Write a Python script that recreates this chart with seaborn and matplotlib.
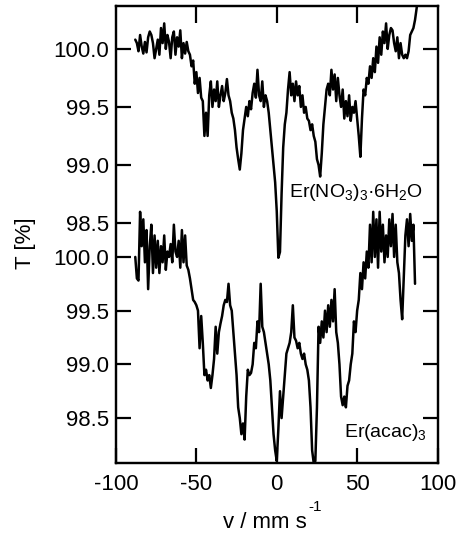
import numpy as np
import pandas as pd
import matplotlib
matplotlib.use("Agg")
import matplotlib.pyplot as plt
import seaborn as sns

# Mössbauer spectra: velocity channels (mm/s) and transmission (%)
v_no3 = np.arange(-88, 89, 1.0)
t_no3 = [
    100.08, 100.05, 99.98, 100.12, 100.02, 99.96, 100.06, 99.97, 100.10, 100.15,
    100.12, 100.05, 99.92, 100.00, 100.08, 99.95, 100.18, 100.05, 100.22, 100.00,
    100.12, 100.06, 99.92, 100.10, 100.15, 99.95, 100.10, 100.02, 100.16, 99.92,
    100.05, 99.96, 100.06, 99.98,
    99.95, 99.85, 99.90, 99.70, 99.80, 99.62, 99.75, 99.58, 99.55,
    99.25, 99.45, 99.25, 99.60,
    99.72, 99.50, 99.65, 99.55, 99.72, 99.50, 99.60, 99.68, 99.55, 99.62,
    99.74, 99.60, 99.55,
    99.45, 99.40, 99.30, 99.15, 99.05, 98.96, 99.10, 99.30, 99.40, 99.50, 99.42,
    99.55, 99.48, 99.62, 99.70, 99.58, 99.82, 99.60, 99.55, 99.72, 99.50, 99.60,
    99.55,
    99.45, 99.30, 99.15, 99.00, 98.85, 98.60, 98.20, 98.25, 98.75, 99.15, 99.35,
    99.45, 99.65, 99.80, 99.60, 99.70, 99.55, 99.72, 99.60, 99.68, 99.50, 99.60,
    99.45, 99.50,
    99.40, 99.38, 99.30, 99.35, 99.25, 99.20, 99.05, 99.00, 98.90, 99.10, 99.35,
    99.50,
    99.65, 99.70, 99.60, 99.82, 99.65, 99.78, 99.55, 99.75, 99.60, 99.50, 99.65,
    99.40, 99.55, 99.42, 99.60, 99.38, 99.50, 99.45, 99.55,
    99.40, 99.25, 99.07, 99.40, 99.65, 99.60,
    99.75, 99.70, 99.85, 99.75, 99.92, 99.80, 100.02, 99.88, 100.10, 99.95,
    100.15, 100.05, 100.22, 100.00, 100.12, 100.18, 100.16, 100.05, 99.98, 100.10,
    99.92, 100.05, 99.95, 99.92, 99.95, 99.92, 99.98, 100.12, 100.15, 100.18,
    100.25, 100.35, 100.50,
]

v_acac = np.arange(-88, 87, 1.0)
t_acac = [
    100.00, 99.80, 99.78, 100.42, 100.10, 100.35, 99.95, 100.25, 99.70, 100.10,
    100.30, 99.85, 100.20, 99.90, 100.15, 99.85, 100.10, 99.95, 100.20, 99.88,
    100.05, 100.00, 100.12, 99.95, 100.30, 100.05, 100.00, 100.15, 99.90, 100.25,
    99.95, 100.20, 99.92, 99.88,
    99.80, 99.70, 99.60, 99.58, 99.55, 99.50, 99.15, 99.45, 99.20, 98.90,
    98.95, 98.85, 98.90, 98.78, 98.90, 99.05, 99.35, 99.10, 99.30, 99.38,
    99.45, 99.55, 99.60, 99.58, 99.75, 99.55, 99.50, 99.30, 99.10, 98.90,
    98.60, 98.50, 98.35, 98.45, 98.30, 98.70, 98.95, 98.90, 98.92, 99.00,
    99.20, 99.15, 99.40, 99.30, 99.75, 99.35, 99.30, 99.20, 99.10, 99.00,
    98.85, 98.60, 98.35, 98.20, 98.10, 98.40, 98.75, 98.50, 98.70, 98.90,
    99.10, 99.15, 99.20, 99.30, 99.55, 99.25, 99.22, 99.15, 99.20, 99.10,
    99.05, 99.10, 99.00, 98.95, 98.85, 98.60, 98.20, 98.08, 98.10, 98.60,
    99.35, 99.20, 99.40, 99.25, 99.50, 99.30, 99.55, 99.35, 99.60, 99.40,
    99.70, 99.30, 99.20, 99.00, 98.70, 98.62, 98.70, 98.60, 98.80, 98.85,
    99.00, 99.10, 99.40, 99.30, 99.50, 99.60, 99.85, 99.70, 99.95, 99.80,
    100.05, 99.90, 100.30, 99.95, 100.42, 100.00, 100.35, 99.90, 100.42, 100.05,
    100.30, 99.95, 100.20, 100.00, 100.35, 100.10, 100.40, 100.00, 100.30, 99.95,
    99.85, 99.60, 99.42, 99.80, 100.20, 100.35, 100.10, 100.40, 100.15, 100.30,
    99.75,
]

y_ticks = [98.5, 99.0, 99.5, 100.0]
x_ticks = [-100, -50, 0, 50, 100]

sns.set_style("ticks")
plt.rcParams["font.family"] = ["Liberation Sans", "DejaVu Sans"]
plt.rcParams["mathtext.fontset"] = "custom"
plt.rcParams["mathtext.rm"] = "Liberation Sans"
plt.rcParams["mathtext.it"] = "Liberation Sans:italic"
plt.rcParams["mathtext.bf"] = "Liberation Sans:bold"
for key in ("text.color", "axes.labelcolor", "xtick.color", "ytick.color",
            "axes.edgecolor"):
    plt.rcParams[key] = "black"

df_no3 = pd.DataFrame({"v": v_no3, "T": t_no3})
df_acac = pd.DataFrame({"v": v_acac, "T": t_acac})

fig = plt.figure(figsize=(4.63, 5.34), dpi=100)
rect = [0.2505, 0.133, 0.6945, 0.856]
ax_lo = fig.add_axes(rect)
ax_hi = fig.add_axes(rect)
ax_hi.patch.set_alpha(0)

sns.lineplot(data=df_acac, x="v", y="T", ax=ax_lo, color="black", lw=1.8,
             estimator=None, sort=False)
sns.lineplot(data=df_no3, x="v", y="T", ax=ax_hi, color="black", lw=1.8,
             estimator=None, sort=False)

fs = 16
for ax in (ax_lo, ax_hi):
    ax.set_xlim(-100, 100)
    ax.set_yticks(y_ticks)
    ax.set_yticklabels([f"{t:.1f}" for t in y_ticks])
    ax.set_xlabel("")
    ax.set_ylabel("")
    ax.tick_params(axis="y", direction="in", length=11, width=1.6,
                  left=True, right=True, labelsize=fs, pad=5)
    for s in ax.spines.values():
        s.set_linewidth(1.6)
        s.set_color("black")

ax_lo.set_ylim(98.082, 102.337)
ax_hi.set_ylim(96.431, 100.371)

ax_lo.set_xticks(x_ticks)
ax_lo.set_xticklabels([str(t) for t in x_ticks])
ax_lo.tick_params(axis="x", direction="in", length=11, width=1.6,
                  bottom=True, top=False, labelsize=fs, pad=8)

ax_hi.set_xticks([-50, 0, 50])
ax_hi.tick_params(axis="x", direction="in", length=12, width=1.6,
                  bottom=False, top=True, labelbottom=False, labeltop=False)

ax_hi.text(0.955, 0.591, r"Er(NO$_3$)$_3$·6H$_2$O", transform=ax_hi.transAxes,
           ha="right", va="center", fontsize=14)
ax_lo.text(0.967, 0.066, r"Er(acac)$_3$", transform=ax_lo.transAxes,
           ha="right", va="center", fontsize=14)

fig.text(0.056, 0.545, "T [%]", rotation=90, ha="center", va="center", fontsize=fs)
fig.text(0.481, 0.012, "v / mm s", ha="left", va="baseline", fontsize=fs)
fig.text(0.680, 0.051, "-1", ha="center", va="center", fontsize=11)

fig.savefig("out.png", dpi=100)
